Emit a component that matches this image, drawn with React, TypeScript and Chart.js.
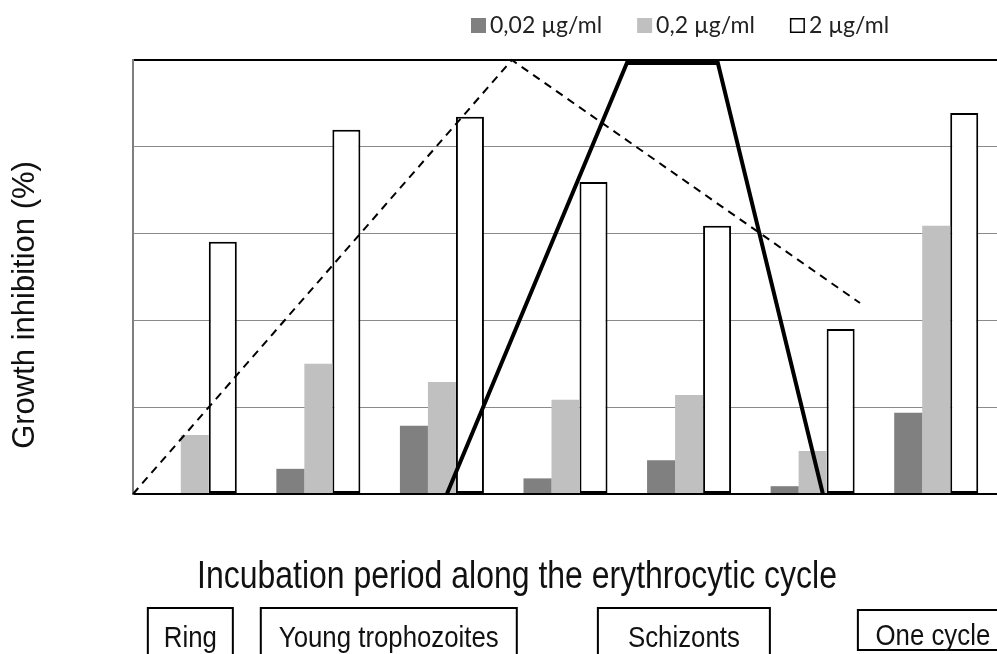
import React, { useEffect, useRef } from 'react';
import { Chart, registerables } from 'chart.js';

Chart.register(...registerables);

// ---- data ----
const categories = ['1', '2', '3', '4', '5', '6', '7'];
const seriesLabels = ['0,02 µg/ml', '0,2 µg/ml', '2 µg/ml'];
const dose002 = [0, 5.8, 15.7, 3.6, 7.8, 1.8, 18.7];
const dose02 = [13.6, 30.0, 25.8, 21.7, 22.8, 9.9, 61.8];
const dose2 = [58.1, 83.9, 86.9, 71.9, 61.8, 38.0, 87.8];

// stage outlines (x in category units, y in %)
const dashedStage = [
  { x: -0.5, y: 0 },
  { x: 2.566, y: 100 },
  { x: 5.383, y: 44 },
];
const solidStage = [
  { x: 2.04, y: 0 },
  { x: 3.497, y: 99.3 },
  { x: 4.233, y: 99.3 },
  { x: 5.083, y: 0 },
];

const yTitle = 'Growth inhibition (%)';
const xTitle = 'Incubation period along the erythrocytic cycle';
const stageNames = ['Ring', 'Young trophozoites', 'Schizonts', 'One cycle'];
const stageCenters = [-0.036, 1.57, 3.958, 5.973];

// ---- layout / style (not data) ----
const stageBoxes = [
  { w: 85, top: 608, bottom: 670 },
  { w: 256, top: 608, bottom: 670 },
  { w: 172, top: 608, bottom: 670 },
  { w: 150, top: 610, bottom: 650 },
];
const barColors = ['#808080', '#c0c0c0', '#ffffff'];

const toPoints = (vals: number[]) => vals.map((v, i) => ({ x: i, y: v }));

const overlayPlugin = {
  id: 'overlayText',
  afterDraw(chart: any) {
    const ctx: CanvasRenderingContext2D = chart.ctx;
    const xs = chart.scales.x;
    ctx.save();

    // legend
    ctx.font = '23px Lato';
    ctx.textBaseline = 'middle';
    ctx.textAlign = 'left';
    let lx = 471;
    const ly = 18;
    const box = 15;
    for (let i = 0; i < 3; i++) {
      const ds = chart.data.datasets[i];
      ctx.fillStyle = ds.backgroundColor;
      ctx.fillRect(lx, ly, box, box);
      if (i === 2) {
        ctx.strokeStyle = '#000';
        ctx.lineWidth = 1.5;
        ctx.strokeRect(lx + 0.75, ly + 0.75, box - 1.5, box - 1.5);
      }
      ctx.fillStyle = '#222';
      const tx = lx + box + 4;
      ctx.fillText(ds.label, tx, ly + 8);
      lx = tx + ctx.measureText(ds.label).width + 35;
    }

    // y title
    ctx.save();
    ctx.translate(25, 305);
    ctx.rotate(-Math.PI / 2);
    ctx.font = '31px "Liberation Sans"';
    ctx.textAlign = 'center';
    ctx.textBaseline = 'middle';
    ctx.fillStyle = '#111';
    ctx.fillText(yTitle, 0, 0);
    ctx.restore();

    // x title (narrow)
    ctx.save();
    ctx.translate(517, 577);
    ctx.scale(0.82, 1);
    ctx.font = '39px "Liberation Sans"';
    ctx.textAlign = 'center';
    ctx.textBaseline = 'middle';
    ctx.fillStyle = '#111';
    ctx.fillText(xTitle, 0, 0);
    ctx.restore();

    // stage boxes
    stageNames.forEach((name, i) => {
      const cx = xs.getPixelForValue(stageCenters[i]);
      const b = stageBoxes[i];
      ctx.strokeStyle = '#000';
      ctx.lineWidth = 2;
      ctx.strokeRect(cx - b.w / 2, b.top, b.w, b.bottom - b.top);
      ctx.save();
      ctx.translate(cx, i === 3 ? 645 : 647);
      ctx.scale(0.86, 1);
      ctx.font = '30px "Liberation Sans"';
      ctx.textAlign = 'center';
      ctx.textBaseline = 'alphabetic';
      ctx.fillStyle = '#111';
      ctx.fillText(name, 0, 0);
      ctx.restore();
    });

    ctx.restore();
  },
};

export default function App() {
  const ref = useRef<HTMLCanvasElement>(null);

  useEffect(() => {
    if (!ref.current) return;
    const barCommon = {
      categoryPercentage: 0.68,
      barPercentage: 1,
      order: 1,
    };
    const chart = new Chart(ref.current, {
      type: 'bar',
      data: {
        datasets: [
          { ...barCommon, label: seriesLabels[0], data: toPoints(dose002) as any, backgroundColor: barColors[0], borderWidth: 0 },
          { ...barCommon, label: seriesLabels[1], data: toPoints(dose02) as any, backgroundColor: barColors[1], borderWidth: 0 },
          {
            ...barCommon,
            label: seriesLabels[2],
            data: toPoints(dose2) as any,
            backgroundColor: barColors[2],
            borderColor: '#000',
            borderWidth: 2,
            borderSkipped: false,
          },
          {
            type: 'line',
            label: 'dashed',
            data: dashedStage as any,
            borderColor: '#000',
            borderWidth: 2,
            borderDash: [8, 6],
            pointRadius: 0,
            fill: false,
            tension: 0,
            clip: false as any,
            order: 0,
          } as any,
          {
            type: 'line',
            label: 'solid',
            data: solidStage as any,
            borderColor: '#000',
            borderWidth: 4,
            pointRadius: 0,
            fill: false,
            tension: 0,
            clip: false as any,
            order: 0,
          } as any,
        ],
      },
      options: {
        responsive: false,
        animation: false,
        devicePixelRatio: 1,
        layout: { padding: { top: 60, right: 2, bottom: 160, left: 0 } },
        plugins: {
          legend: { display: false },
          tooltip: { enabled: false },
          title: { display: false },
        },
        scales: {
          x: {
            type: 'linear',
            min: -0.5,
            max: 6.5,
            offset: false,
            afterBuildTicks: (s: any) => {
              s.ticks = categories.map((_, i) => ({ value: i }));
            },
            ticks: { display: false, callback: (v: any) => categories[v] ?? '' },
            grid: { display: false, drawTicks: false },
            border: { display: true, color: '#000', width: 2 },
            afterFit: (s: any) => {
              s.height = 0;
            },
          },
          y: {
            min: 0,
            max: 100,
            ticks: { display: false, stepSize: 20 },
            grid: {
              drawTicks: false,
              tickLength: 0,
              color: (c: any) => (c.tick && (c.tick.value === 0 || c.tick.value === 100) ? '#000' : '#8a8a8a'),
              lineWidth: (c: any) => (c.tick && (c.tick.value === 0 || c.tick.value === 100) ? 2 : 1),
            },
            border: { display: true, color: '#7f7f7f', width: 2 },
            afterFit: (s: any) => {
              s.width = 133;
            },
          },
        },
      } as any,
      plugins: [overlayPlugin],
    });
    return () => chart.destroy();
  }, []);

  return (
    <div
      style={{
        position: 'fixed',
        left: 0,
        top: 0,
        width: 997,
        height: 654,
        overflow: 'hidden',
        background: '#fff',
      }}
    >
      <canvas ref={ref} width={1000} height={654} style={{ display: 'block', width: 1000, height: 654 }} />
    </div>
  );
}
